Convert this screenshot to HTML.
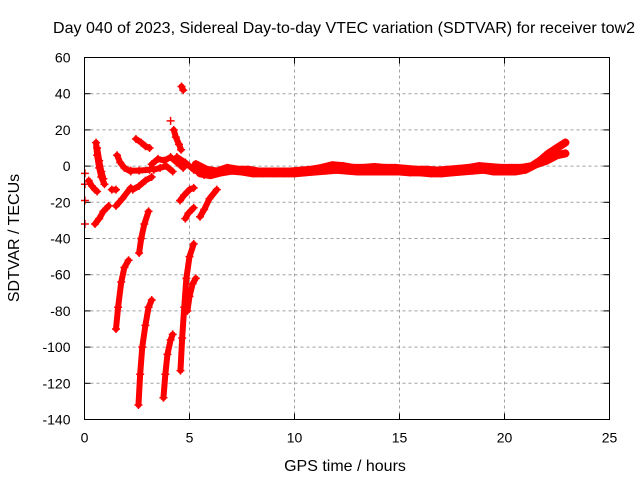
<!DOCTYPE html>
<html><head><meta charset="utf-8"><style>
body{margin:0;background:#fff;}
svg{display:block;font-family:"Liberation Sans",sans-serif;}
</style></head><body>
<svg id="chart" width="640" height="480" viewBox="0 0 640 480">
<rect width="640" height="480" fill="#fff"/>
<text x="344" y="33" font-size="16" textLength="582" lengthAdjust="spacingAndGlyphs" text-anchor="middle">Day 040 of 2023, Sidereal Day-to-day VTEC variation (SDTVAR) for receiver tow2</text>
<text x="345" y="471" font-size="16" text-anchor="middle">GPS time / hours</text>
<text transform="translate(19,238) rotate(-90)" font-size="16" text-anchor="middle">SDTVAR / TECUs</text>
<g id="grid"></g><g id="ticks"></g><g id="marks"></g>
<rect x="84.5" y="57.5" width="525" height="362" fill="none" stroke="#000" stroke-width="1"/>
</svg>
<script>
const xTicks=[0,5,10,15,20,25];
const yTicks=[60,40,20,0,-20,-40,-60,-80,-100,-120,-140];
// arcs: [hour, SDTVAR]
const arcA=[[0.55,13],[0.6,6],[0.7,-1],[0.8,-6],[0.95,-10]];
const arcA2=[[0.6,10],[0.7,3],[0.8,-3],[0.9,-7]];
const arcB=[[0.2,-8],[0.35,-11],[0.5,-13],[0.6,-14]];
const edgeMarks=[[0.02,-4],[0.02,-10],[0.02,-19],[0.02,-32]];
const arcC=[[0.5,-32],[0.7,-29],[0.9,-25],[1.15,-22]];
const arcD=[[1.55,6],[1.7,2],[1.9,-1],[2.2,-3]];
const arcE=[[1.3,-13],[1.5,-13]];
const arcF=[[1.5,-22],[1.8,-18],[2.2,-12]];
const arcG=[[1.5,-90],[1.6,-78],[1.75,-64],[1.9,-56],[2.1,-52]];
const arcH=[[2.45,15],[2.7,13],[2.9,11],[3.1,10]];
const arcI=[[2.2,-2.5],[2.6,-2.5],[3.1,-2]];
const arcJ=[[2.3,-13],[2.6,-11],[2.9,-8],[3.2,-6]];
const arcK=[[2.6,-48],[2.7,-40],[2.85,-32],[3.05,-25]];
const arcL=[[2.57,-132],[2.65,-115],[2.75,-100],[2.9,-88],[3.05,-78],[3.2,-74]];
const arcM=[[3.76,-128],[3.85,-115],[3.95,-104],[4.1,-96],[4.2,-93]];
const arcN=[[3.2,1],[3.5,4],[3.8,3],[4.1,5],[4.4,2],[4.7,-1]];
const arcN2=[[3.3,-2],[3.6,-1],[3.9,0],[4.2,-3]];
const arcO=[[4.1,25]];
const arcP=[[4.25,20],[4.35,16],[4.5,12],[4.6,9]];
const arcQ=[[4.62,44],[4.7,42]];
const arcR=[[4.55,-19],[4.75,-16],[5.0,-13],[5.2,-12]];
const arcS=[[4.8,-29],[4.95,-26],[5.2,-23]];
const arcT=[[4.57,-113],[4.65,-95],[4.75,-78],[4.85,-62],[5.0,-50],[5.2,-43]];
const arcU=[[4.9,-80],[5.0,-72],[5.15,-65],[5.3,-62]];
const arcV=[[5.5,-28],[5.7,-24],[5.95,-18],[6.3,-13]];
const arcW=[[4.4,5],[4.8,2],[5.2,-2],[5.7,-5]];
const bandUpper=[[5.3,1],[5.8,-2],[6.3,-3],[6.8,-1],[7.3,-2],[7.8,-2],[8.3,-3],[8.8,-3],[9.3,-3],[9.8,-3],[10.3,-2.5],[10.8,-2],[11.3,-1],[11.8,0.5],[12.3,0],[12.8,-1],[13.3,-1],[13.8,-0.5],[14.3,-1],[14.8,-1],[15.3,-1.5],[15.8,-2],[16.3,-2],[16.8,-2.5],[17.3,-2],[17.8,-1.5],[18.3,-1],[18.8,0],[19.3,-0.5],[19.8,-1],[20.3,-1],[20.8,-1],[21.3,0],[21.7,3],[22.1,7],[22.5,10],[22.9,13]];
const bandLower=[[5.5,-4],[6.0,-5],[6.5,-3.5],[7.0,-2.5],[7.5,-3],[8.0,-4],[8.5,-4],[9.0,-4],[9.5,-4],[10.0,-4],[10.5,-3.5],[11.0,-3],[11.5,-2.5],[12.0,-2],[12.5,-2.5],[13.0,-3],[13.5,-3],[14.0,-3],[14.5,-3],[15.0,-3],[15.5,-3.5],[16.0,-3.5],[16.5,-4],[17.0,-4],[17.5,-3.5],[18.0,-3],[18.5,-2.5],[19.0,-2],[19.5,-3],[20.0,-3],[20.5,-3],[21.0,-2],[21.5,1],[22.0,3],[22.5,6],[22.9,7]];
const trackSeries=[arcA,arcA2,arcB,arcC,arcD,arcE,arcF,arcG,arcH,arcI,arcJ,arcK,arcL,arcM,arcN,arcN2,arcO,arcP,arcQ,arcR,arcS,arcT,arcU,arcV,arcW,bandUpper,bandLower];
const pointOnlySeries=[edgeMarks];
const X0=84.5,X1=609.5,Y0=57.5,Y1=419.5;
function sx(v){return X0+(v-0)/(25-0)*(X1-X0);}
function sy(v){return Y0+(60-v)/(60-(-140))*(Y1-Y0);}
const NS='http://www.w3.org/2000/svg';
const grid=document.getElementById('grid'),ticks=document.getElementById('ticks'),marks=document.getElementById('marks');
function mk(t,a,p){const e=document.createElementNS(NS,t);for(const k in a)e.setAttribute(k,a[k]);p.appendChild(e);return e;}
xTicks.forEach(v=>{
  const x=sx(v);
  if(v>0&&v<25){const g=mk('line',{x1:x,y1:Y0,x2:x,y2:Y1,stroke:'#a0a0a0','stroke-dasharray':'3,3'},grid);
  
  }
  mk('line',{x1:x,y1:Y1,x2:x,y2:Y1-6,stroke:'#000'},ticks);
  mk('line',{x1:x,y1:Y0,x2:x,y2:Y0+6,stroke:'#000'},ticks);
  const t=mk('text',{x:x,y:Y1+23,'font-size':14,'text-anchor':'middle'},ticks);t.textContent=v;
  
  
});
yTicks.forEach(v=>{
  const y=sy(v);
  if(v<60&&v>-140){const g=mk('line',{x1:X0,y1:y,x2:X1,y2:y,stroke:'#a0a0a0','stroke-dasharray':'3,3'},grid);
  
  }
  mk('line',{x1:X0,y1:y,x2:X0+6,y2:y,stroke:'#000'},ticks);
  mk('line',{x1:X1,y1:y,x2:X1-6,y2:y,stroke:'#000'},ticks);
  const t=mk('text',{x:X0-14,y:y+5,'font-size':14,'text-anchor':'end'},ticks);t.textContent=v;
  
  
});
function drawPoints(s){
  s.forEach(p=>{
    const x=sx(p[0]),y=sy(p[1]);
    const m=mk('path',{d:`M${x-4},${y}H${x+4}M${x},${y-4}V${y+4}`,stroke:'#f00','stroke-width':1.5},marks);
    
    
  });
}
trackSeries.forEach(s=>{
  if(s.length>1){
    const w=(s===bandUpper||s===bandLower)?8:6;
    const pl=mk('polyline',{points:s.map(p=>sx(p[0])+','+sy(p[1])).join(' '),fill:'none',stroke:'#f00','stroke-width':w,'stroke-linejoin':'round','stroke-linecap':'round'},marks);
    
    
  }
  drawPoints(s);
});
pointOnlySeries.forEach(drawPoints);
</script>
</body></html>
